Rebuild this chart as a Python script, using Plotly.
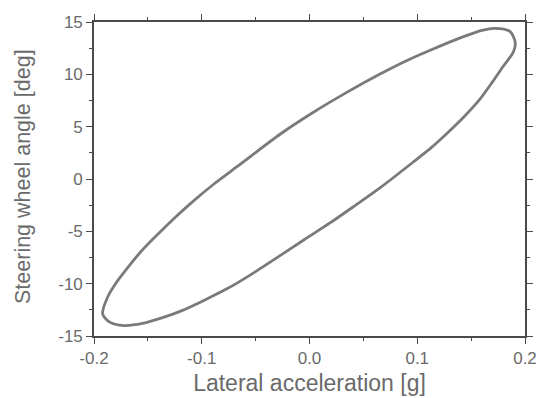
import plotly.graph_objects as go

# Loop (lateral acceleration [g], steering wheel angle [deg])
lat_acc = [-0.192, -0.187, -0.180, -0.172, -0.157, -0.141, -0.125, -0.110, -0.089,
           -0.067, -0.027, 0.004, 0.035, 0.065, 0.090, 0.112, 0.143, 0.160,
           0.172, 0.186, 0.191, 0.189, 0.180, 0.170, 0.158, 0.143, 0.128, 0.113,
           0.096, 0.066, 0.040, 0.019, -0.005, -0.027, -0.057, -0.075, -0.098,
           -0.119, -0.135, -0.155, -0.172, -0.185, -0.192]
steer_angle = [-12.9, -11.2, -10.0, -8.9, -7.0, -5.3, -3.7, -2.3, -0.5,
               1.2, 4.3, 6.4, 8.3, 10.0, 11.3, 12.3, 13.6, 14.2,
               14.4, 14.1, 13.0, 12.1, 10.8, 9.3, 7.6, 5.9, 4.4, 3.0,
               1.6, -0.8, -2.7, -4.2, -5.8, -7.3, -9.3, -10.4, -11.6,
               -12.6, -13.2, -13.8, -14.0, -13.7, -12.9]

x_tickvals = [-0.2, -0.1, 0.0, 0.1, 0.2]
x_ticktext = ["-0.2", "-0.1", "0.0", "0.1", "0.2"]
y_tickvals = [-15, -10, -5, 0, 5, 10, 15]
y_ticktext = ["-15", "-10", "-5", "0", "5", "10", "15"]
x_title = "Lateral acceleration [g]"
y_title = "Steering wheel angle [deg]"

axis_color = "#4a4a4a"
text_color = "#6a6a6a"
font_family = "Liberation Sans, Arial, sans-serif"

fig = go.Figure()
fig.add_trace(go.Scatter(
    x=lat_acc, y=steer_angle, mode="lines",
    line=dict(color="#7a7a7a", width=2.8, shape="spline", smoothing=0.8),
    showlegend=False, hoverinfo="skip"))

common = dict(
    showline=True, linecolor=axis_color, linewidth=1.6, mirror="allticks",
    ticks="outside", ticklen=6, tickwidth=1.2, tickcolor=axis_color,
    showgrid=False, zeroline=False, automargin=False,
    tickfont=dict(size=17, color=text_color, family=font_family),
)

fig.update_xaxes(
    range=[-0.2, 0.2], tickvals=x_tickvals, ticktext=x_ticktext,
    minor=dict(dtick=0.05, ticks="outside", ticklen=3, tickwidth=1.2, tickcolor=axis_color, showgrid=False),
    title=dict(text=x_title, standoff=8,
               font=dict(size=23, color=text_color, family=font_family)),
    **common)
fig.update_yaxes(
    range=[-15, 15], tickvals=y_tickvals, ticktext=y_ticktext,
    minor=dict(dtick=2.5, ticks="outside", ticklen=3, tickwidth=1.2, tickcolor=axis_color, showgrid=False),
    **common)

fig.add_annotation(
    text=y_title, xref="paper", yref="paper", x=0, y=0.5,
    xanchor="center", yanchor="middle", xshift=-71, yshift=2,
    textangle=-90, showarrow=False,
    font=dict(size=21.5, color=text_color, family=font_family))

fig.update_layout(
    width=540, height=398,
    margin=dict(l=94, r=15, t=22, b=62),
    paper_bgcolor="white", plot_bgcolor="white",
)

fig.write_html("out.html")
